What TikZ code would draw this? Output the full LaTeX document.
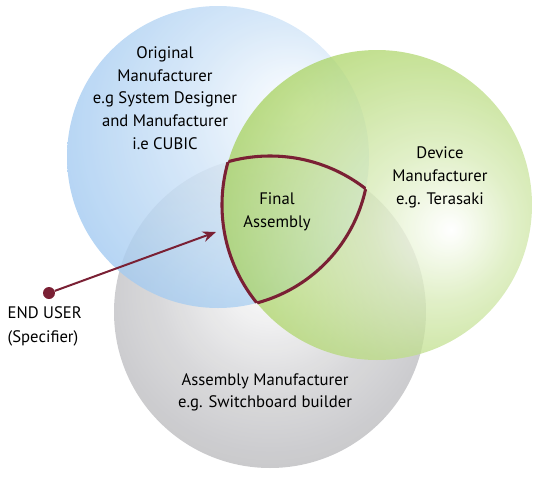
\documentclass[tikz,border=0pt]{standalone}
\usepackage{fontspec}
\setmainfont{PT Sans}
\usetikzlibrary{arrows.meta}
\definecolor{blueset}{RGB}{135,186,236}
\definecolor{greenset}{RGB}{140,196,45}
\definecolor{greyset}{RGB}{160,160,165}
\definecolor{userred}{RGB}{122,32,52}
\pgfdeclareradialshading{blueshade}{\pgfpoint{14bp}{8bp}}{color(0bp)=(white); color(16bp)=(blueset!40); color(40bp)=(blueset!90); color(70bp)=(blueset)}
\pgfdeclareradialshading{greenshade}{\pgfpoint{12bp}{-4bp}}{color(0bp)=(white); color(12bp)=(greenset!35); color(38bp)=(greenset!90); color(70bp)=(greenset)}
\pgfdeclareradialshading{greyshade}{\pgfpoint{0bp}{6bp}}{color(0bp)=(white); color(18bp)=(greyset!45); color(42bp)=(greyset!85); color(70bp)=(greyset)}
\tikzset{
  setlabel/.style={align=center, text=black, font=\fontsize{12.5}{17}\selectfont},
  finalline/.style={draw=userred, line width=2.3pt}
}
\begin{document}
\begin{tikzpicture}[x=0.75pt,y=-0.75pt]
\useasboundingbox (0,0) rectangle (540,479);
\shade[shading=greyshade, fill opacity=0.9] (270,312) circle (156);
\shade[shading=blueshade, fill opacity=0.8] (218,157) circle (151);
\shade[shading=greenshade, fill opacity=0.75] (377,205) circle (155);
\begin{scope}
\clip (218,157) circle (151);
\clip (377,205) circle (155);
\draw[finalline] (270,312) circle (156);
\end{scope}
\begin{scope}
\clip (377,205) circle (155);
\clip (270,312) circle (156);
\draw[finalline] (218,157) circle (151);
\end{scope}
\begin{scope}
\clip (218,157) circle (151);
\clip (270,312) circle (156);
\draw[finalline] (377,205) circle (155);
\end{scope}
\node[setlabel] (original) at (165,98) {Original\\Manufacturer\\e.g System Designer\\and Manufacturer\\i.e CUBIC};
\node[setlabel] (device) at (440,177.5) {Device\\Manufacturer\\e.g. Terasaki};
\node[setlabel] (final) at (277,211.5) {Final\\Assembly};
\node[setlabel] (assembly) at (265,392.5) {Assembly Manufacturer\\e.g. Switchboard builder};
\node[setlabel, align=left, anchor=west, font=\fontsize{12.5}{18}\selectfont] (enduser) at (3,326) {END USER\\(Specifier)};
\node[circle, fill=userred, minimum size=9pt, inner sep=0pt] (userdot) at (49,293) {};
\coordinate (finaltip) at (216,232);
\draw[userred, line width=1.5pt, -{Stealth[length=10pt,width=8pt]}] (userdot) -- (finaltip);
\end{tikzpicture}
\end{document}
